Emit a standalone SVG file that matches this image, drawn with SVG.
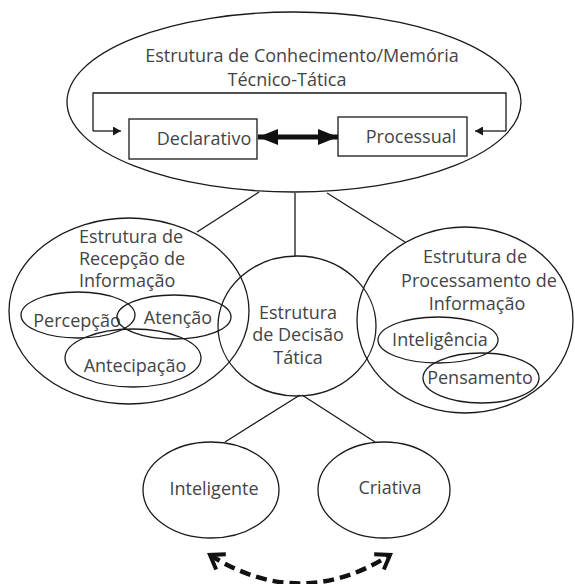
<svg xmlns="http://www.w3.org/2000/svg" width="575" height="584" viewBox="0 0 575 584">
<defs>
<style>
.shape{fill:none;stroke:#1a1a1a;stroke-width:1.3}
.conn{fill:none;stroke:#1a1a1a;stroke-width:1.3}
text{font-family:"Open Sans","Liberation Sans",sans-serif;font-size:18px;fill:#444}
.c{text-anchor:middle}
</style>
<marker id="thinHead" viewBox="0 0 10 10" refX="10" refY="5" markerWidth="8" markerHeight="9" markerUnits="userSpaceOnUse" orient="auto" preserveAspectRatio="none">
<path d="M0,0 L10,5 L0,10 Z" fill="#1a1a1a"/>
</marker>
<marker id="bigHead" viewBox="0 0 10 10" refX="10" refY="5" markerWidth="20" markerHeight="16" markerUnits="userSpaceOnUse" orient="auto-start-reverse" preserveAspectRatio="none">
<path d="M0,0 L10,5 L0,10 Z" fill="#111"/>
</marker>
<marker id="chev" viewBox="0 0 24 24" refX="17" refY="12" markerWidth="24" markerHeight="24" markerUnits="userSpaceOnUse" orient="auto-start-reverse">
<path d="M4,3 L17,12 L4,21" fill="none" stroke="#111" stroke-width="4" stroke-linejoin="miter"/>
</marker>
</defs>
<rect width="575" height="584" fill="#fff"/>

<g id="connectors">
<line class="conn" x1="259" y1="192" x2="197" y2="232"/>
<line class="conn" x1="295" y1="193" x2="295" y2="256"/>
<line class="conn" x1="327" y1="193" x2="405" y2="242"/>
<line class="conn" x1="300" y1="395" x2="225" y2="442"/>
<line class="conn" x1="302" y1="395" x2="375" y2="442"/>
<path class="conn" d="M93,131 L93,93 L506,93 L506,131"/>
<line class="conn" x1="93" y1="131" x2="121" y2="131" marker-end="url(#thinHead)"/>
<line class="conn" x1="506" y1="131" x2="475" y2="131" marker-end="url(#thinHead)"/>
<line x1="258" y1="137" x2="338" y2="137" stroke="#111" stroke-width="5" marker-start="url(#bigHead)" marker-end="url(#bigHead)"/>
<path d="M210,555 Q300,612 390,555" fill="none" stroke="#111" stroke-width="4.5" stroke-dasharray="11,6" marker-start="url(#chev)" marker-end="url(#chev)"/>
</g>

<g id="memoria">
<ellipse class="shape" cx="294" cy="102" rx="227" ry="90"/>
<text class="c" x="302" y="62">Estrutura de Conhecimento/Memória</text>
<text class="c" x="287" y="86">Técnico-Tática</text>
</g>
<g id="declarativo">
<rect class="shape" x="129" y="119" width="128" height="40"/>
<text class="c" x="204" y="145">Declarativo</text>
</g>
<g id="processual">
<rect class="shape" x="338" y="117" width="129" height="39"/>
<text class="c" x="411" y="143">Processual</text>
</g>

<g id="recepcao">
<ellipse class="shape" cx="129" cy="311" rx="120" ry="93"/>
<text x="79" y="243">Estrutura de</text>
<text x="79" y="265">Recepção de</text>
<text x="79" y="287">Informação</text>
</g>
<g id="percepcao">
<ellipse class="shape" cx="78" cy="315" rx="57" ry="23"/>
<text class="c" x="77" y="327">Percepção</text>
</g>
<g id="atencao">
<ellipse class="shape" cx="174" cy="317" rx="57" ry="22"/>
<text class="c" x="178" y="324">Atenção</text>
</g>
<g id="antecipacao">
<ellipse class="shape" cx="133" cy="358" rx="68" ry="29"/>
<text class="c" x="135" y="372">Antecipação</text>
</g>

<g id="decisao">
<ellipse class="shape" cx="297" cy="326" rx="79" ry="70"/>
<text class="c" x="298" y="319">Estrutura</text>
<text class="c" x="298" y="341">de Decisão</text>
<text class="c" x="298" y="364">Tática</text>
</g>

<g id="processamento">
<ellipse class="shape" cx="465" cy="320" rx="108" ry="93"/>
<text class="c" x="475" y="263">Estrutura de</text>
<text class="c" x="479" y="287">Processamento de</text>
<text class="c" x="477" y="310">Informação</text>
</g>
<g id="inteligencia">
<ellipse class="shape" cx="438" cy="340" rx="60" ry="23"/>
<text class="c" x="440" y="346">Inteligência</text>
</g>
<g id="pensamento">
<ellipse class="shape" cx="481" cy="378" rx="58" ry="25"/>
<text class="c" x="480" y="384">Pensamento</text>
</g>

<g id="inteligente">
<ellipse class="shape" cx="211" cy="490" rx="68" ry="48"/>
<text class="c" x="214" y="495">Inteligente</text>
</g>
<g id="criativa">
<ellipse class="shape" cx="384" cy="490" rx="66" ry="48"/>
<text class="c" x="390" y="494">Criativa</text>
</g>
</svg>
